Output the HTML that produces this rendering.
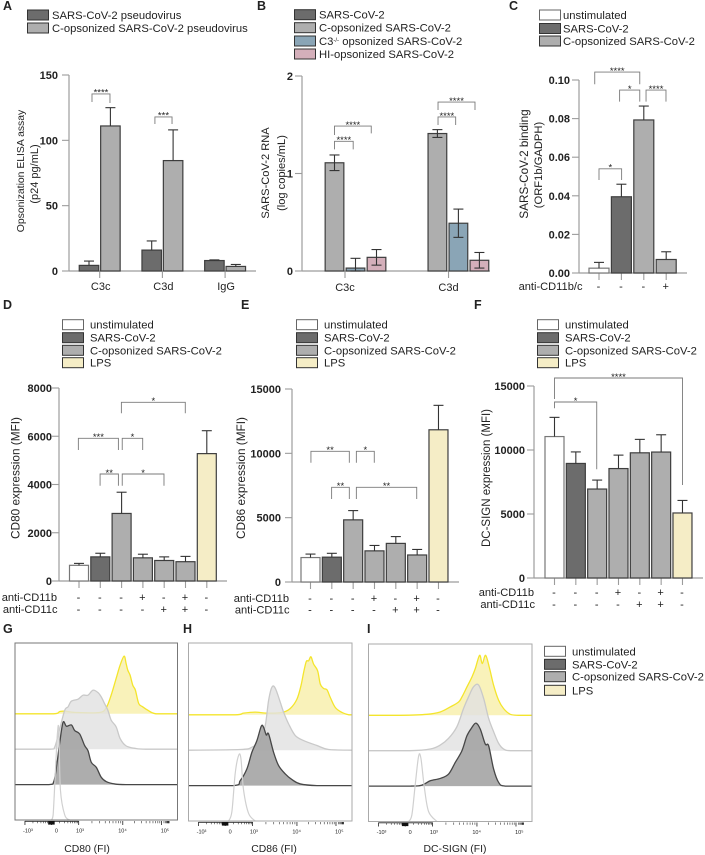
<!DOCTYPE html>
<html lang="en">
<head>
<meta charset="utf-8">
<title>Complement opsonization of SARS-CoV-2 figure</title>
<style>
html,body{margin:0;padding:0;background:#fff;width:705px;height:855px;overflow:hidden}
svg{display:block;filter:blur(0.3px)}
text{font-family:"Liberation Sans",sans-serif;fill:#222}
</style>
</head>
<body>
<svg id="fig" xmlns="http://www.w3.org/2000/svg" width="705" height="855" viewBox="0 0 705 855"></svg>
<script>
/* ---------- Panel A data ---------- */
const aCategories = ['C3c', 'C3d', 'IgG'];
const aPseudovirus = [4.3, 16, 8];
const aPseudovirusErr = [3.3, 7, 0.5];
const aOpsonized = [111, 84.5, 3.5];
const aOpsonizedErr = [14, 23.5, 1.5];
const aTicks = [0, 50, 100, 150];
/* ---------- Panel B data ---------- */
const bCategories = ['C3c', 'C3d'];
const bOpsonized = [1.11, 1.41];
const bOpsonizedErr = [0.08, 0.04];
const bC3KO = [0.03, 0.49];
const bC3KOErr = [0.1, 0.145];
const bHI = [0.14, 0.11];
const bHIErr = [0.08, 0.08];
const bTicks = [0, 1, 2];
/* ---------- Panel C data ---------- */
const cValues = [0.0025, 0.0395, 0.0793, 0.007];
const cErrors = [0.003, 0.0065, 0.0072, 0.004];
const cTicks = [0, 0.02, 0.04, 0.06, 0.08, 0.1];
const cTickLabels = ['0.00', '0.02', '0.04', '0.06', '0.08', '0.10'];
const cAntiCD11bc = ['-', '-', '-', '+'];
/* ---------- Panel D data ---------- */
const dValues = [650, 1000, 2800, 960, 850, 800, 5280];
const dErrors = [80, 150, 880, 150, 150, 220, 950];
const dTicks = [0, 2000, 4000, 6000, 8000];
/* ---------- Panel E data ---------- */
const eValues = [1900, 1930, 4830, 2420, 3000, 2100, 11830];
const eErrors = [270, 300, 720, 420, 530, 430, 1900];
const eTicks = [0, 5000, 10000, 15000];
/* ---------- Panel F data ---------- */
const fValues = [11050, 8950, 6950, 8550, 9780, 9840, 5080];
const fErrors = [1500, 900, 700, 1050, 1050, 1350, 980];
const fTicks = [0, 5000, 10000, 15000];
/* ---------- Shared conditions ---------- */
const antiCD11b = ['-', '-', '-', '+', '-', '+', '-'];
const antiCD11c = ['-', '-', '-', '-', '+', '+', '-'];
/* ---------- Histogram data: [channel, count] ---------- */
const gLPS = [[0,0],[115,0],[135,7],[150,8],[185,4],[255,4],[275,18],[290,56],[305,106],[317,146],[329,173],[335,151],[340,131],[347,116],[355,86],[363,71],[373,31],[385,21],[400,11],[425,0],[490,0]];
const gOpsonized = [[0,0],[105,0],[120,7],[135,62],[150,117],[160,127],[170,144],[190,150],[205,162],[220,162],[235,177],[250,170],[260,157],[270,137],[280,117],[290,87],[305,67],[317,32],[335,10],[365,2],[395,0],[490,0]];
const gVirus = [[0,0],[100,0],[117,9],[127,67],[135,127],[145,187],[155,175],[170,179],[180,162],[195,152],[210,117],[220,102],[230,67],[245,52],[260,22],[275,9],[300,2],[335,0],[490,0]];
const gUnstim = [[110,0],[115,15],[123,170],[128,260],[132,270],[137,90],[150,15],[165,0]];
const hLPS = [[0,0],[140,0],[165,5],[200,8],[235,5],[280,7],[305,19],[325,47],[337,87],[345,127],[353,160],[360,162],[367,174],[375,152],[387,132],[395,92],[405,79],[415,75],[425,52],[440,22],[460,7],[480,0],[490,0]];
const hOpsonized = [[0,0],[155,2],[190,9],[215,29],[230,74],[240,149],[250,189],[260,186],[275,144],[285,114],[300,79],[320,44],[345,29],[385,14],[420,2],[490,0]];
const hVirus = [[0,0],[135,0],[155,15],[175,50],[190,100],[205,135],[218,178],[225,175],[233,152],[240,155],[255,100],[270,60],[290,35],[310,18],[335,5],[385,0],[490,0]];
const hUnstim = [[120,0],[130,28],[140,143],[150,196],[157,188],[165,93],[180,23],[200,0]];
const iLPS = [[0,0],[95,0],[175,3],[215,10],[245,25],[270,40],[280,55],[295,85],[310,115],[320,140],[333,180],[341,155],[351,180],[363,140],[375,90],[390,45],[405,20],[425,3],[450,0],[490,0]];
const iOpsonized = [[0,0],[125,0],[185,5],[215,17],[240,37],[265,72],[285,127],[300,162],[315,192],[330,197],[345,157],[360,97],[375,57],[390,22],[405,5],[425,0],[490,0]];
const iVirus = [[0,0],[125,0],[160,3],[185,16],[215,23],[240,36],[260,71],[280,106],[295,151],[310,176],[322,189],[335,171],[350,126],[360,121],[375,51],[390,11],[410,0],[490,0]];
const iUnstim = [[120,0],[130,20],[140,110],[150,195],[157,190],[167,105],[180,30],[205,0]];
const histTickChannels = [30, 110, 192, 325, 442];
const histTickLabels = ['-10³', '0', '10³', '10⁴', '10⁵'];
const histLabelChannels = [39, 125, 196, 324, 452];

/* ---------- Palette ---------- */
const C = {dark:'#6c6c6c', light:'#aeaeae', blue:'#8aa5b6', pink:'#d4afba', lps:'#f5edc6', white:'#ffffff'};
const legendUnstim = [['unstimulated',C.white],['SARS-CoV-2',C.dark],['C-opsonized SARS-CoV-2',C.light]];
const legendFull = legendUnstim.concat([['LPS',C.lps]]);
const SVGNS = 'http://www.w3.org/2000/svg';
const root = document.getElementById('fig');

function make(parent, tag, attrs) {
  const el = document.createElementNS(SVGNS, tag);
  for (const k in attrs) el.setAttribute(k, attrs[k]);
  parent.appendChild(el);
  return el;
}
function label(parent, x, y, str, size, anchor, weight) {
  const el = make(parent, 'text', {x: x, y: y, 'font-size': size, 'text-anchor': anchor || 'start', 'font-weight': weight || 'normal'});
  el.textContent = str;
  return el;
}
function drawLegend(parent, entries, sx, tx, rows) {
  const g = make(parent, 'g', {});
  
  
  entries.forEach(function (e, i) {
    const sw = make(g, 'rect', {x: sx, y: rows[i] - 5, width: 21, height: 10, fill: e[1], stroke: e[1] === C.white ? '#666' : '#333', 'stroke-width': 1});
    
    
    const t = label(g, tx, rows[i] + 4, e[0], 11.25);
    
    
    if (e[2]) {
      t.textContent = '';
      const a = make(t, 'tspan', {}); a.textContent = 'C3';
      const b = make(t, 'tspan', {'font-size': 6, dy: -3}); b.textContent = '-/-';
      const c = make(t, 'tspan', {dy: 3}); c.textContent = ' opsonized SARS-CoV-2';
    }
  });
}
function drawPanel(p) {
  const g = make(root, 'g', {});
  
  
  const xs = function (s) { return p.x0 + s * p.step; };
  const ys = function (v) { return p.y0 - (v / p.yMax) * (p.y0 - p.yTop); };

  /* axes */
  const ax = make(g, 'line', {x1: p.left, x2: p.left, y1: ys(p.yMax), y2: p.y0, stroke: '#9c9c9c', 'stroke-width': 1.2});
  
  
  const bx = make(g, 'line', {x1: p.left, x2: p.right, y1: p.y0, y2: p.y0, stroke: '#9c9c9c', 'stroke-width': 1.2});
  
  
  p.yTicks.forEach(function (v, i) {
    const t = make(g, 'line', {x1: p.left - 7, x2: p.left, y1: ys(v), y2: ys(v), stroke: '#9c9c9c', 'stroke-width': 1.1});
    
    
    const l = label(g, p.left - p.labelGap, ys(v) + 4, p.yLabels ? p.yLabels[i] : String(v), 11, 'end', 'bold');
    
    
  });
  p.xTicks.forEach(function (s) {
    const t = make(g, 'line', {x1: xs(s), x2: xs(s), y1: p.y0, y2: p.y0 + 7, stroke: '#9c9c9c', 'stroke-width': 1.1});
    
    
  });

  /* bars */
  p.bars.forEach(function (b) {
    const c = xs(b.slot);
    const bar = make(g, 'rect', {x: c - p.barW / 2, y: ys(b.value), width: p.barW, height: p.y0 - ys(b.value), fill: b.fill, stroke: b.fill === C.white ? '#777' : '#3e3e3e', 'stroke-width': 1.2});
    
    
    const low = p.symmetric ? Math.max(b.value - b.err, 0) : b.value;
    const e = make(g, 'line', {x1: c, x2: c, y1: ys(low), y2: ys(b.value + b.err), stroke: '#333', 'stroke-width': 1.1});
    
    
    const cap = make(g, 'line', {x1: c - p.cap, x2: c + p.cap, y1: ys(b.value + b.err), y2: ys(b.value + b.err), stroke: '#333', 'stroke-width': 1.1});
    
    
    if (p.symmetric) {
      const cap2 = make(g, 'line', {x1: c - p.cap, x2: c + p.cap, y1: ys(low), y2: ys(low), stroke: '#333', 'stroke-width': 1.1});
      
      
    }
  });

  /* significance brackets: [slotA, slotB, top, dropA, dropB, stars] */
  p.brackets.forEach(function (b) {
    const d = 'M' + xs(b[0]) + ' ' + ys(b[3]) + 'V' + ys(b[2]) + 'H' + xs(b[1]) + 'V' + ys(b[4]);
    const br = make(g, 'path', {d: d, fill: 'none', stroke: '#7a7a7a', 'stroke-width': 0.9});
    
    
    const s = label(g, (xs(b[0]) + xs(b[1])) / 2, ys(b[2]) + 1.8, b[5], 9.5, 'middle');
    
    
  });

  /* category labels */
  (p.categories || []).forEach(function (c, i) {
    const l = label(g, xs(p.xTicks[i]) + (p.catShift || 0), p.catY, c, 11, 'middle');
    
    
  });
  /* treatment rows */
  (p.rows || []).forEach(function (r) {
    const l = label(g, r.labelX, r.y + 4, r.name, 11.1, 'end');
    
    
    r.marks.forEach(function (m, i) {
      const t = label(g, xs(i) - 0.5, r.y + 4, m, 11, 'middle');
      
      
    });
  });
  /* y titles: [text, x, y, size] */
  p.titles.forEach(function (t) {
    const l = make(g, 'text', {'font-size': t[3], 'text-anchor': 'middle', transform: 'translate(' + t[1] + ',' + t[2] + ') rotate(-90)', y: 4});
    l.textContent = t[0];
    
    
  });
  drawLegend(g, p.legend, p.legendX, p.legendTextX, p.legendRows);
  const pl = label(g, p.letter[1], p.letter[2], p.letter[0], 12.5, 'start', 'bold');
  
  
}
function seq(values, errors, fills) {
  return values.map(function (v, i) { return {slot: i, value: v, err: errors[i], fill: fills[i]}; });
}
function grouped(seriesList, groupStep) {
  const out = [];
  seriesList.forEach(function (s, j) {
    s.values.forEach(function (v, i) {
      out.push({slot: i * groupStep + j, value: v, err: s.errors[i], fill: s.fill});
    });
  });
  return out;
}
const fill7 = [C.white, C.dark, C.light, C.light, C.light, C.light, C.lps];
const rows7 = [0, 1, 2, 3, 4, 5, 6];

drawPanel({
  id: 'a', left: 69, right: 256, y0: 271, yTop: 75, yMax: 150, x0: 89, step: 21.4, barW: 19.5, cap: 5, labelGap: 11,
  yTicks: aTicks, xTicks: [0.5, 3.43, 6.36], categories: aCategories, catY: 290, catShift: 1,
  bars: grouped([{values: aPseudovirus, errors: aPseudovirusErr, fill: C.dark}, {values: aOpsonized, errors: aOpsonizedErr, fill: C.light}], 2.93),
  brackets: [[0.14, 0.98, 135.5, 129.3, 128.6, '****'], [3.08, 3.88, 117.9, 112.5, 112.5, '***']],
  titles: [['Opsonization ELISA assay', 20, 171, 10.4], ['(p24 pg/mL)', 34, 174, 11]],
  legend: [['SARS-CoV-2 pseudovirus', C.dark], ['C-opsonized SARS-CoV-2 pseudovirus', C.light]],
  legendX: 27.5, legendTextX: 52, legendRows: [15, 28],
  letter: ['A', 3, 10]
});
drawPanel({
  id: 'b', left: 302, right: 490, y0: 271, yTop: 76, yMax: 2, x0: 334.5, step: 21, barW: 18.7, cap: 5, labelGap: 9, symmetric: true,
  yTicks: bTicks, xTicks: [0.5, 5.43], categories: bCategories, catY: 291, catShift: 0,
  bars: grouped([{values: bOpsonized, errors: bOpsonizedErr, fill: C.light}, {values: bC3KO, errors: bC3KOErr, fill: C.blue}, {values: bHI, errors: bHIErr, fill: C.pink}], 4.9),
  brackets: [[0, 0.89, 1.33, 1.248, 1.248, '****'], [0, 1.75, 1.487, 1.395, 1.412, '****'], [4.93, 5.77, 1.58, 1.497, 1.497, '****'], [4.93, 6.69, 1.733, 1.651, 1.651, '****']],
  titles: [['SARS-CoV-2 RNA', 265, 173, 11.1], ['(log copies/mL)', 281, 173, 11.1]],
  legend: [['SARS-CoV-2', C.dark], ['C-opsonized SARS-CoV-2', C.light], ['C3 opsonized', C.blue, true], ['HI-opsonized SARS-CoV-2', C.pink]],
  legendX: 294.5, legendTextX: 319, legendRows: [14.7, 27.7, 41, 54],
  letter: ['B', 257, 10]
});
drawPanel({
  id: 'c', left: 579, right: 687, y0: 273, yTop: 80, yMax: 0.1, x0: 599, step: 22.4, barW: 20, cap: 5, labelGap: 9,
  yTicks: cTicks, yLabels: cTickLabels, xTicks: [0, 1, 2, 3],
  bars: seq(cValues, cErrors, [C.white, C.dark, C.light, C.light]),
  brackets: [[-0.19, 1.82, 0.1041, 0.0978, 0.0978, '****'], [0.92, 1.82, 0.0948, 0.0888, 0.0888, '*'], [2.1, 2.99, 0.0948, 0.0888, 0.0888, '****'], [0, 1.01, 0.054, 0.0482, 0.0482, '*']],
  rows: [{name: 'anti-CD11b/c', labelX: 582.5, y: 286, marks: cAntiCD11bc}],
  titles: [['SARS-CoV-2 binding', 524, 164, 11.7], ['(ORF1b/GADPH)', 538, 165, 11.2]],
  legend: legendUnstim, legendX: 539.5, legendTextX: 563, legendRows: [15, 28.5, 41],
  letter: ['C', 509, 10]
});
drawPanel({
  id: 'd', left: 59, right: 227, y0: 581, yTop: 388, yMax: 8000, x0: 79, step: 21.3, barW: 19, cap: 5, labelGap: 7,
  yTicks: dTicks, xTicks: rows7,
  bars: seq(dValues, dErrors, fill7),
  brackets: [[1.99, 4.99, 7407, 6951, 6951, '*'], [-0.03, 1.85, 5915, 5430, 5430, '***'], [2.03, 2.99, 5915, 5430, 5430, '*'], [0.99, 1.85, 4435, 3950, 3950, '**'], [2.03, 3.99, 4435, 3950, 3950, '*']],
  rows: [{name: 'anti-CD11b', labelX: 57, y: 597, marks: antiCD11b}, {name: 'anti-CD11c', labelX: 57.5, y: 609, marks: antiCD11c}],
  titles: [['CD80 expression (MFI)', 15.5, 478, 11.8]],
  legend: legendFull, legendX: 62.5, legendTextX: 90, legendRows: [324.7, 337.7, 350.3, 362.7],
  letter: ['D', 3, 309]
});
drawPanel({
  id: 'e', left: 292, right: 459, y0: 582, yTop: 389, yMax: 15000, x0: 310.5, step: 21.33, barW: 19, cap: 5, labelGap: 11,
  yTicks: eTicks, xTicks: rows7,
  bars: seq(eValues, eErrors, fill7),
  brackets: [[0.02, 1.82, 10158, 9272, 9272, '**'], [2.15, 2.99, 10158, 9272, 9272, '*'], [0.99, 1.82, 7360, 6451, 6451, '**'], [2.15, 4.98, 7360, 6451, 6451, '**']],
  rows: [{name: 'anti-CD11b', labelX: 289, y: 598, marks: antiCD11b}, {name: 'anti-CD11c', labelX: 289.5, y: 609.5, marks: antiCD11c}],
  titles: [['CD86 expression (MFI)', 241, 478, 11.8]],
  legend: legendFull, legendX: 296.5, legendTextX: 324, legendRows: [324.7, 337.7, 350.3, 362.7],
  letter: ['E', 241, 309]
});
drawPanel({
  id: 'f', left: 534, right: 703, y0: 578, yTop: 386, yMax: 15000, x0: 554.5, step: 21.33, barW: 19, cap: 5, labelGap: 9,
  yTicks: fTicks, xTicks: rows7,
  bars: seq(fValues, fErrors, fill7),
  brackets: [[0, 6, 15625, 13984, 7266, '****'], [0, 1.98, 13750, 13258, 8492, '*']],
  rows: [{name: 'anti-CD11b', labelX: 534, y: 592, marks: antiCD11b}, {name: 'anti-CD11c', labelX: 535, y: 604, marks: antiCD11c}],
  titles: [['DC-SIGN expression (MFI)', 486, 478, 11.5]],
  legend: legendFull, legendX: 537.5, legendTextX: 565, legendRows: [324.7, 337.7, 350.3, 362.7],
  letter: ['F', 474, 309]
});

/* ---------- Histograms ---------- */
function smoothPath(pts, baseY) {
  let d = 'M' + pts[0][0] + ' ' + pts[0][1];
  for (let i = 0; i < pts.length - 1; i++) {
    const p0 = pts[Math.max(i - 1, 0)], p1 = pts[i], p2 = pts[i + 1], p3 = pts[Math.min(i + 2, pts.length - 1)];
    const c1x = p1[0] + (p2[0] - p0[0]) / 6, c1y = Math.min(p1[1] + (p2[1] - p0[1]) / 6, baseY);
    const c2x = p2[0] - (p3[0] - p1[0]) / 6, c2y = Math.min(p2[1] - (p3[1] - p1[1]) / 6, baseY);
    d += 'C' + c1x + ' ' + c1y + ' ' + c2x + ' ' + c2y + ' ' + p2[0] + ' ' + p2[1];
  }
  return d;
}
function drawHist(p) {
  const g = make(root, 'g', {});
  
  
  const hx = function (c) { return p.x + (c / 490) * p.w; };
  const hy = function (n, lane) { return p.y + p.h - lane * 35.4 - n / 3; };
  const styles = [
    {series: p.lps, lane: 3, fill: '#f8f1b2', line: '#f4e52c', op: 0.9, lw: 1.3},
    {series: p.ops, lane: 2, fill: '#e2e2e2', line: '#c9c9c9', op: 0.82, lw: 1.3},
    {series: p.virus, lane: 1, fill: '#a6a6a6', line: '#474747', op: 0.92, lw: 1.3},
    {series: p.unstim, lane: 0, fill: 'none', line: '#d0d0d0', op: 1, lw: 1.2}
  ];
  styles.forEach(function (s) {
    const pts = s.series.map(function (d) { return [hx(d[0]), hy(d[1], s.lane)]; });
    const path = smoothPath(pts, hy(0, s.lane));
    if (s.fill !== 'none') {
      const a = make(g, 'path', {d: path + 'Z', fill: s.fill, 'fill-opacity': s.op, stroke: 'none'});
      
      
    }
    const l = make(g, 'path', {d: path, fill: 'none', stroke: s.line, 'stroke-width': s.lw, 'stroke-linejoin': 'round'});
    
    
  });
  const fr = make(g, 'rect', {x: p.x, y: p.y, width: p.w, height: p.h, fill: 'none', stroke: p.frame, 'stroke-width': 1});
  
  
  const ay = p.y + p.h;
  const spine = make(g, 'line', {x1: hx(histTickChannels[0]), x2: hx(histTickChannels[2]), y1: ay + 1.3, y2: ay + 1.3, stroke: '#222', 'stroke-width': 0.9});
  
  
  histTickChannels.forEach(function (c, i) {
    const t = make(g, 'line', {x1: hx(c), x2: hx(c), y1: ay + 1, y2: ay + 5, stroke: '#222', 'stroke-width': 0.8});
    
    
    const l = label(g, hx(histLabelChannels[i]), ay + 12.5, histTickLabels[i], 5.5, 'middle');
    
    
    l.setAttribute('fill', '#555');
    const next = i < histTickChannels.length - 1 ? histTickChannels[i + 1] : 490;
    for (let k = 2; k < 10; k++) {
      const m = c + (next - c) * Math.log10(k) * (i === 4 ? 0.5 : 1);
      const mt = make(g, 'line', {x1: hx(m), x2: hx(m), y1: ay + 1, y2: ay + 3.3, stroke: '#333', 'stroke-width': 0.6});
      
      
    }
  });
  const clump = make(g, 'rect', {x: hx(100), y: ay + 1, width: 6.5, height: 3.6, fill: '#111'});
  
  
  const tt = label(g, p.titleX, 852, p.title, 10.4, 'middle');
  
  
  const pl = label(g, p.letterX, 633, p.id.toUpperCase(), 12.5, 'start', 'bold');
  
  
}
drawHist({id: 'g', x: 15, y: 643, w: 162.5, h: 177, frame: '#777', lps: gLPS, ops: gOpsonized, virus: gVirus, unstim: gUnstim, title: 'CD80 (FI)', titleX: 87, letterX: 3});
drawHist({id: 'h', x: 188.5, y: 643, w: 163.5, h: 178, frame: '#aaa', lps: hLPS, ops: hOpsonized, virus: hVirus, unstim: hUnstim, title: 'CD86 (FI)', titleX: 274, letterX: 183});
drawHist({id: 'i', x: 368.5, y: 644, w: 163.5, h: 177.5, frame: '#aaa', lps: iLPS, ops: iOpsonized, virus: iVirus, unstim: iUnstim, title: 'DC-SIGN (FI)', titleX: 455, letterX: 367});
drawLegend(root, legendFull, 544.5, 572, [651.3, 664.3, 676.7, 690.3]);
</script>
</body>
</html>
